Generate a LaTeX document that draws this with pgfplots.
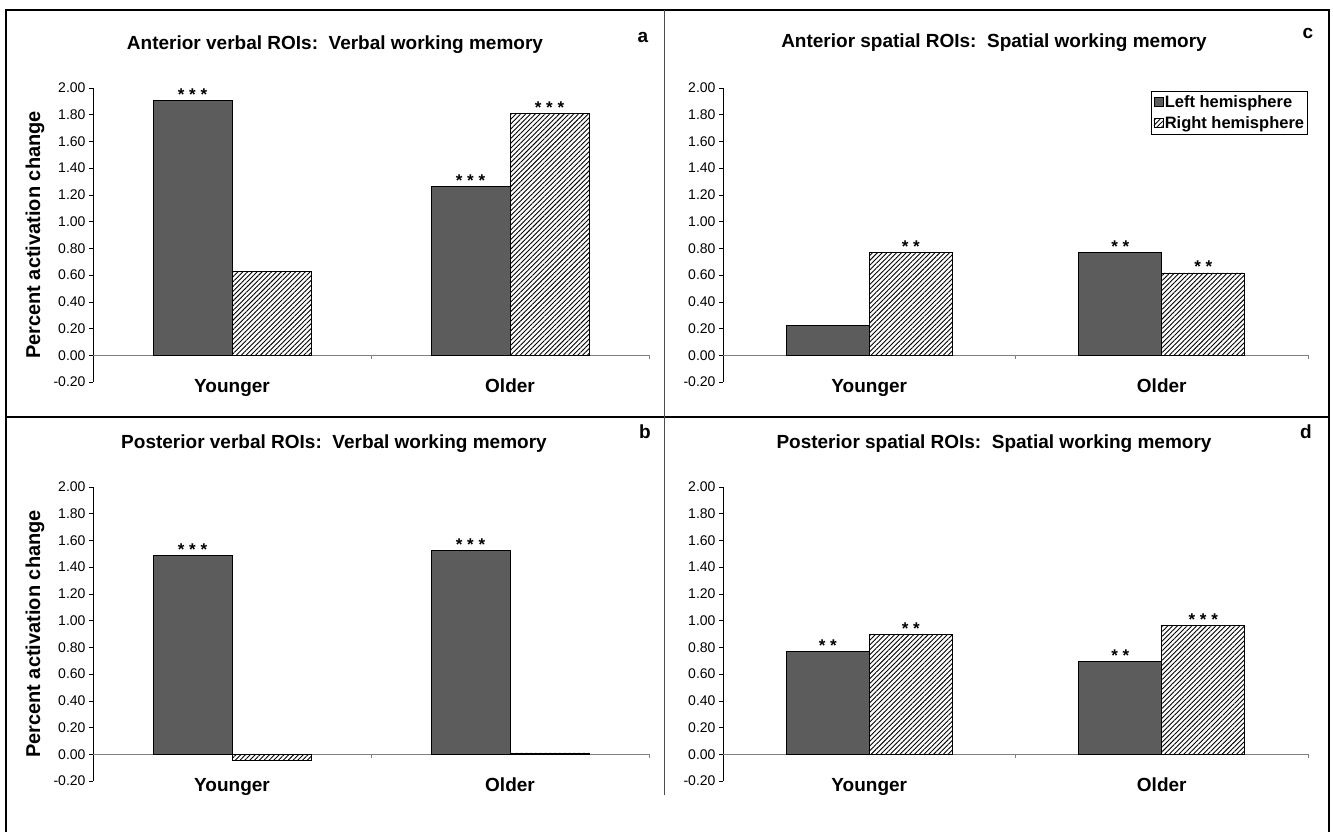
\documentclass[border=0pt]{standalone}
\usepackage{fontspec}
\setmainfont{Liberation Sans}
\usepackage{pgfplots}
\pgfplotsset{compat=1.18}
\usetikzlibrary{patterns.meta}

\definecolor{darkbar}{RGB}{92,92,92}

\pgfplotsset{
  panel/.style={
    scale only axis, width=#1, height=294pt,
    xmin=0, xmax=2, ymin=-0.2, ymax=2,
    axis lines*=left,
    x axis line style={draw=none},
    y axis line style={black, line width=0.6pt},
    xtick={0.5,1.5}, xticklabels={Younger,Older},
    xtick style={draw=none},
    ytick={-0.2,0,0.2,0.4,0.6,0.8,1,1.2,1.4,1.6,1.8,2},
    yticklabels={-0.20,0.00,0.20,0.40,0.60,0.80,1.00,1.20,1.40,1.60,1.80,2.00},
    ytick style={black, line width=0.6pt},
    tick align=outside, major tick length=4pt,
    yticklabel style={font=\fontsize{14}{16}\selectfont},
    xticklabel style={font=\fontsize{19}{22}\selectfont\bfseries, anchor=center,
      text height=13.5pt, text depth=4pt, yshift=-2pt},
    clip=false,
    legend image code/.code={\draw[##1] (0pt,-4pt) rectangle (9pt,5pt);},
  },
  leftbar/.style={ybar, bar width=#1, bar shift=-0.5*#1, fill=darkbar, draw=black, line width=0.6pt},
  rightbar/.style={ybar, bar width=#1, bar shift=0.5*#1, fill=white, draw=black, line width=0.6pt,
    postaction={pattern={Lines[angle=45,distance=3.4pt,line width=0.9pt]}, pattern color=black}},
}

\newcommand{\zeroline}{%
  \draw[gray, line width=0.8pt] (axis cs:0,0) -- (axis cs:2,0);
  \draw[gray, line width=0.6pt] (axis cs:1,0) -- ++(0pt,-4pt);
  \draw[gray, line width=0.6pt] (axis cs:2,0) -- ++(0pt,-4pt);
}
\newcommand{\stars}[4]{%
  \node[font=\fontsize{17}{17}\selectfont\bfseries, anchor=base, xshift=#3, yshift=0pt, inner sep=0pt] at (axis cs:#1,#2) {#4};
}

\begin{document}
\begin{tikzpicture}[x=1pt,y=1pt]
\useasboundingbox (0,0) rectangle (1333,832);
% frame
\draw[line width=2pt] (6,0) -- (6,822) -- (1329,822) -- (1329,0);
\draw[line width=1.3pt] (6,415) -- (1329,415);
\draw[line width=0.8pt, black!70] (664,822) -- (664,37);

% titles
\begin{scope}[every node/.style={font=\fontsize{19}{22}\selectfont\bfseries}]
\node at (335,787) {Anterior verbal ROIs:\ \ Verbal working memory};
\node at (994,789) {Anterior spatial ROIs:\ \ Spatial working memory};
\node at (334,388) {Posterior verbal ROIs:\ \ Verbal working memory};
\node at (994,388) {Posterior spatial ROIs:\ \ Spatial working memory};
\node at (643,795) {a};
\node at (1308,799) {c};
\node at (645,400) {b};
\node at (1306,400) {d};
\end{scope}
\begin{scope}[every node/.style={font=\fontsize{20}{22}\selectfont\bfseries, rotate=90}]
\node at (35,597) {Percent activation change};
\node at (35,198) {Percent activation change};
\end{scope}

% panel a
\begin{axis}[panel=556pt, at={(93pt,450pt)}, anchor=south west]
\zeroline
\addplot[leftbar=79pt] coordinates {(0.5,1.91) (1.5,1.265)};
\addplot[rightbar=79pt] coordinates {(0.5,0.626) (1.5,1.81)};
\stars{0.5}{1.91}{-39.5pt}{* * *}
\stars{1.5}{1.265}{-39.5pt}{* * *}
\stars{1.5}{1.81}{39.5pt}{* * *}
\end{axis}

% panel c
\begin{axis}[panel=585pt, at={(723pt,450pt)}, anchor=south west,
  legend style={at={(rel axis cs:1,0.99)}, anchor=north east, draw=black, line width=0.8pt,
    font=\fontsize{16.5}{18}\selectfont\bfseries, inner xsep=2pt, inner ysep=2pt, row sep=4pt,
    cells={anchor=west}, nodes={inner xsep=1.5pt}}]
\zeroline
\addplot[leftbar=83pt] coordinates {(0.5,0.226) (1.5,0.772)};
\addlegendentry{Left hemisphere}
\addplot[rightbar=83pt] coordinates {(0.5,0.772) (1.5,0.617)};
\addlegendentry{Right hemisphere}
\stars{0.5}{0.772}{41.5pt}{* *}
\stars{1.5}{0.772}{-41.5pt}{* *}
\stars{1.5}{0.617}{41.5pt}{* *}
\end{axis}

% panel b
\begin{axis}[panel=556pt, at={(93pt,51pt)}, anchor=south west]
\zeroline
\addplot[leftbar=79pt] coordinates {(0.5,1.49) (1.5,1.525)};
\addplot[rightbar=79pt] coordinates {(0.5,-0.045) (1.5,0.01)};
\stars{0.5}{1.49}{-39.5pt}{* * *}
\stars{1.5}{1.525}{-39.5pt}{* * *}
\end{axis}

% panel d
\begin{axis}[panel=585pt, at={(723pt,51pt)}, anchor=south west]
\zeroline
\addplot[leftbar=83pt] coordinates {(0.5,0.768) (1.5,0.696)};
\addplot[rightbar=83pt] coordinates {(0.5,0.898) (1.5,0.963)};
\stars{0.5}{0.768}{-41.5pt}{* *}
\stars{0.5}{0.898}{41.5pt}{* *}
\stars{1.5}{0.696}{-41.5pt}{* *}
\stars{1.5}{0.963}{41.5pt}{* * *}
\end{axis}
\end{tikzpicture}
\end{document}
